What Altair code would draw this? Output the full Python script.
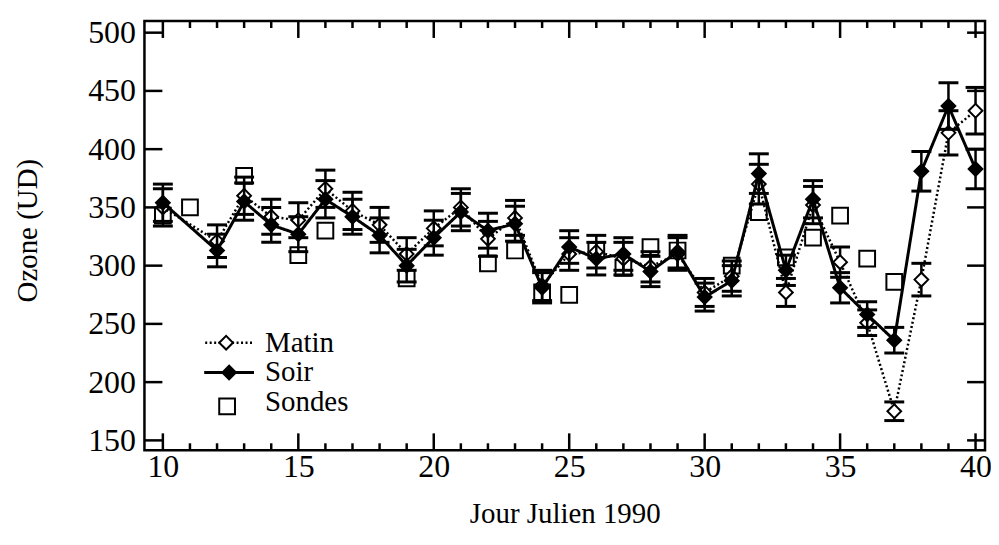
import altair as alt
import pandas as pd

# ---- data ----
days_obs = [10, 12, 13, 14, 15, 16, 17, 18, 19, 20, 21, 22, 23, 24, 25,
            26, 27, 28, 29, 30, 31, 32, 33, 34, 35, 36, 37, 38, 39, 40]
matin = [350, 321, 360, 342, 339, 366, 347, 335, 310, 332, 350, 323, 341, 283, 310,
         312, 306, 299, 310, 277, 291, 370, 277, 352, 303, 251, 175, 288, 414, 433]
matin_err = [16, 14, 16, 15, 15, 16, 16, 15, 14, 15, 16, 15, 15, 13, 14,
             14, 14, 13, 14, 12, 13, 17, 12, 16, 13, 11, 8, 14, 19, 20]
soir = [354, 313, 355, 335, 327, 357, 342, 326, 300, 324, 346, 330, 336, 281, 316,
        306, 310, 295, 312, 273, 287, 379, 296, 357, 281, 258, 236, 381, 437, 383]
soir_err = [16, 14, 16, 15, 15, 16, 15, 15, 14, 15, 16, 15, 15, 13, 14,
            14, 14, 13, 14, 12, 13, 17, 13, 16, 13, 11, 11, 17, 20, 17]
days_sondes = [10, 11, 13, 15, 16, 19, 22, 23, 24, 25, 26, 27, 28, 29, 31,
               32, 33, 34, 35, 36, 37]
sondes = [343, 350, 377, 309, 330, 289, 302, 313, 277, 275, 313, 298, 316, 313, 300,
          346, 307, 324, 343, 306, 286]

x_major = [10, 15, 20, 25, 30, 35, 40]
x_minor = [d for d in range(10, 41) if d % 5 != 0]
y_major = [150, 200, 250, 300, 350, 400, 450, 500]
legend_labels = ["Matin", "Soir", "Sondes"]

FONT = "Liberation Serif"
W, H = 844, 431

xs = alt.Scale(domain=[9.32, 40.35], nice=False, zero=False)
ys = alt.Scale(domain=[141.5, 510], nice=False, zero=False)

df_m = pd.DataFrame({"day": days_obs, "v": matin,
                     "lo": [a - b for a, b in zip(matin, matin_err)],
                     "hi": [a + b for a, b in zip(matin, matin_err)]})
df_s = pd.DataFrame({"day": days_obs, "v": soir,
                     "lo": [a - b for a, b in zip(soir, soir_err)],
                     "hi": [a + b for a, b in zip(soir, soir_err)]})
df_so = pd.DataFrame({"day": days_sondes, "v": sondes})

xaxis = alt.Axis(values=x_major, ticks=False, tickSize=0, domain=False, grid=False,
                 labelPadding=1, title="Jour Julien 1990",
                 titleBaseline="middle", titleY=64)
yaxis = alt.Axis(values=y_major, ticks=False, tickSize=0, domain=False, grid=False,
                 labelPadding=9, title="Ozone (UD)",
                 titleBaseline="middle", titleX=-117, titleY=210, titleAlign="center")


def X(field="day", axis=None):
    if axis is None:
        return alt.X(f"{field}:Q", scale=xs)
    return alt.X(f"{field}:Q", scale=xs, axis=axis)


def Y(field="v", axis=None):
    if axis is None:
        return alt.Y(f"{field}:Q", scale=ys)
    return alt.Y(f"{field}:Q", scale=ys, axis=axis)


sondes_layer = alt.Chart(df_so).mark_point(
    shape="square", size=250, filled=False, stroke="black", strokeWidth=2, opacity=1
).encode(x=X(axis=xaxis), y=Y(axis=yaxis))


def series(df, dash, filled, lw):
    b = alt.Chart(df)
    line = b.mark_line(color="black", strokeWidth=lw, strokeDash=dash).encode(x=X(), y=Y())
    err = b.mark_rule(color="black", strokeWidth=2.5).encode(x=X(), y=Y("lo"), y2="hi:Q")
    cap_lo = b.mark_tick(orient="horizontal", size=20, thickness=3, color="black", opacity=1).encode(x=X(), y=Y("lo"))
    cap_hi = b.mark_tick(orient="horizontal", size=20, thickness=3, color="black", opacity=1).encode(x=X(), y=Y("hi"))
    pts = b.mark_point(shape="diamond", size=190, filled=True,
                       fill="black" if filled else "white", stroke="black",
                       strokeWidth=2, opacity=1).encode(x=X(), y=Y())
    return [line, err, cap_lo, cap_hi, pts]


m_layers = series(df_m, [2, 2.5], False, 2.5)
s_layers = series(df_s, [1, 0], True, 3)

# frame ticks (inward)
dxM = pd.DataFrame({"t": x_major})
dxm = pd.DataFrame({"t": x_minor})
dyM = pd.DataFrame({"t": y_major})
tick_layers = [
    alt.Chart(dxM).mark_rule(color="black", strokeWidth=2.5).encode(x=X("t"), y=alt.value(H), y2=alt.value(H - 17)),
    alt.Chart(dxM).mark_rule(color="black", strokeWidth=2.5).encode(x=X("t"), y=alt.value(0), y2=alt.value(17)),
    alt.Chart(dxm).mark_rule(color="black", strokeWidth=2.5).encode(x=X("t"), y=alt.value(H), y2=alt.value(H - 7)),
    alt.Chart(dxm).mark_rule(color="black", strokeWidth=2.5).encode(x=X("t"), y=alt.value(0), y2=alt.value(7)),
    alt.Chart(dyM).mark_rule(color="black", strokeWidth=2.5).encode(y=Y("t"), x=alt.value(0), x2=alt.value(18)),
    alt.Chart(dyM).mark_rule(color="black", strokeWidth=2.5).encode(y=Y("t"), x=alt.value(W), x2=alt.value(W - 18)),
]

# manual legend
one = pd.DataFrame({"k": [0]})
leg = [
    alt.Chart(one).mark_rule(color="black", strokeWidth=2.5, strokeDash=[2, 2.5]).encode(
        x=alt.value(61), x2=alt.value(110), y=alt.value(323)),
    alt.Chart(one).mark_point(shape="diamond", size=190, filled=True, fill="white",
                              stroke="black", strokeWidth=2, opacity=1).encode(
        x=alt.value(82), y=alt.value(323)),
    alt.Chart(one).mark_text(text=legend_labels[0], font=FONT, fontSize=29, align="left",
                             baseline="middle", color="black").encode(x=alt.value(121), y=alt.value(323)),
    alt.Chart(one).mark_rule(color="black", strokeWidth=3).encode(
        x=alt.value(60), x2=alt.value(110), y=alt.value(353)),
    alt.Chart(one).mark_point(shape="diamond", size=190, filled=True, fill="black",
                              stroke="black", strokeWidth=2, opacity=1).encode(
        x=alt.value(85), y=alt.value(353)),
    alt.Chart(one).mark_text(text=legend_labels[1], font=FONT, fontSize=29, align="left",
                             baseline="middle", color="black").encode(x=alt.value(121), y=alt.value(352)),
    alt.Chart(one).mark_point(shape="square", size=250, filled=False, stroke="black",
                              strokeWidth=2, opacity=1).encode(x=alt.value(83), y=alt.value(387)),
    alt.Chart(one).mark_text(text=legend_labels[2], font=FONT, fontSize=29, align="left",
                             baseline="middle", color="black").encode(x=alt.value(121), y=alt.value(383)),
]

chart = alt.layer(sondes_layer, *m_layers, *s_layers, *tick_layers, *leg).properties(
    width=W, height=H,
    autosize=alt.AutoSizeParams(type="none"),
    padding={"left": 137, "top": 12, "right": 6, "bottom": 86},
    background="white",
).configure_view(
    stroke="black", strokeWidth=2.5
).configure_axis(
    labelFont=FONT, labelFontSize=32, labelColor="black",
    titleFont=FONT, titleFontSize=29, titleFontWeight="normal", titleColor="black",
)

chart.save("out.html", embed_options={"renderer": "svg", "actions": False})
